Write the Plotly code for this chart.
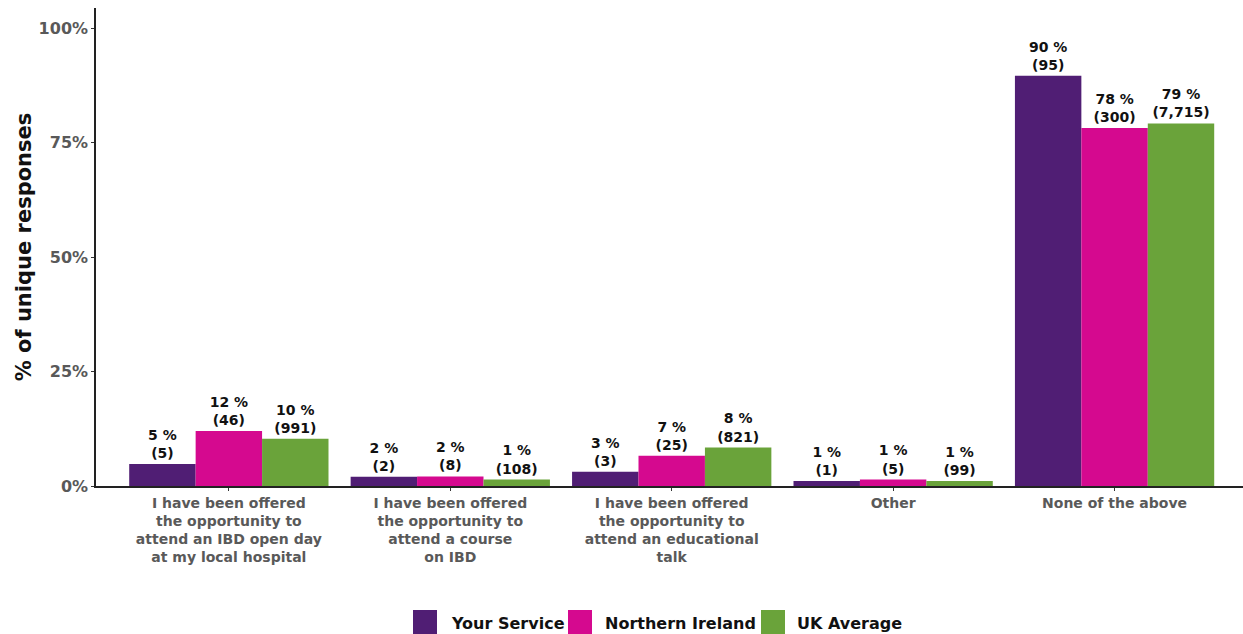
import plotly.graph_objects as go

# Survey answers (x axis) and the three comparison groups
categories = [
    "I have been offered<br>the opportunity to<br>attend an IBD open day<br>at my local hospital",
    "I have been offered<br>the opportunity to<br>attend a course<br>on IBD",
    "I have been offered<br>the opportunity to<br>attend an educational<br>talk",
    "Other",
    "None of the above",
]
series_names = ["Your Service", "Northern Ireland", "UK Average"]

# Share of unique responses (%) and the response counts behind them
your_service_pct = [4.8, 2.0, 3.1, 1.1, 89.6]
your_service_n = [5, 2, 3, 1, 95]
northern_ireland_pct = [12.0, 2.1, 6.6, 1.4, 78.2]
northern_ireland_n = [46, 8, 25, 5, 300]
uk_average_pct = [10.3, 1.4, 8.4, 1.1, 79.2]
uk_average_n = [991, 108, 821, 99, 7715]

colors = ["#501E74", "#D5098F", "#6AA33A"]

FONT = "DejaVu Sans"
W, H = 1243, 634
M_L, M_R, M_T, M_B = 96, 0, 8, 148

fig = go.Figure()
for name, pct, n, col in zip(
    series_names,
    [your_service_pct, northern_ireland_pct, uk_average_pct],
    [your_service_n, northern_ireland_n, uk_average_n],
    colors,
):
    fig.add_trace(go.Bar(
        name=name,
        x=categories,
        y=pct,
        marker=dict(color=col, line=dict(width=0)),
        text=[f"{round(p)} %<br>({c:,})" for p, c in zip(pct, n)],
        textposition="outside",
        textfont=dict(size=14, color="#111111", family=FONT, weight="bold"),
        cliponaxis=False,
        hoverinfo="skip",
        showlegend=False,
    ))


# Legend drawn as large swatches below the plot
def to_paper_x(px):
    return (px - M_L) / (W - M_L - M_R)


def to_paper_y(py):
    return (H - M_B - py) / (H - M_T - M_B)


legend_items = [(413, 449), (568, 603), (761, 795)]  # swatch left, label left (px)
for (sx, tx), name, col in zip(legend_items, series_names, colors):
    fig.add_shape(
        type="rect", xref="paper", yref="paper",
        x0=to_paper_x(sx), x1=to_paper_x(sx + 24),
        y0=to_paper_y(635), y1=to_paper_y(610),
        fillcolor=col, line=dict(width=0), layer="above",
    )
    fig.add_annotation(
        xref="paper", yref="paper", x=to_paper_x(tx), y=to_paper_y(623),
        xanchor="left", yanchor="middle", showarrow=False, text=name,
        font=dict(size=16, color="#111111", family=FONT, weight="bold"),
    )

fig.update_layout(
    width=W, height=H,
    barmode="group", bargap=0.1, bargroupgap=0,
    plot_bgcolor="white", paper_bgcolor="white",
    margin=dict(l=M_L, r=M_R, t=M_T, b=M_B),
    font=dict(family=FONT, weight="bold"),
    showlegend=False,
    xaxis=dict(
        range=[-0.6, 4.58],
        showline=True, linecolor="#222222", linewidth=1.5,
        ticks="outside", ticklen=3, tickcolor="#333333",
        tickfont=dict(size=14, color="#595959", family=FONT, weight="bold"),
        showgrid=False,
    ),
    yaxis=dict(
        range=[0, 104.4],
        tickvals=[0, 25, 50, 75, 100],
        ticktext=["0%", "25%", "50%", "75%", "100%"],
        showline=True, linecolor="#222222", linewidth=1.5,
        ticks="outside", ticklen=3, tickcolor="#333333",
        tickfont=dict(size=16, color="#595959", family=FONT, weight="bold"),
        showgrid=False, zeroline=False,
        title=dict(text="% of unique responses",
                   font=dict(size=21, color="#111111", family=FONT, weight="bold"),
                   standoff=1),
    ),
)

fig.write_html("out.html")
